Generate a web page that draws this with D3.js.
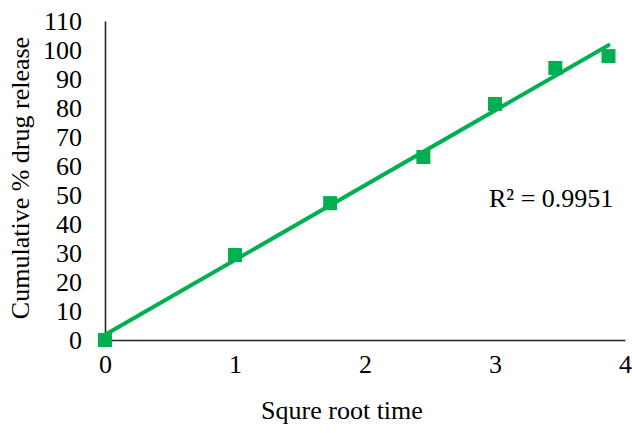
<!DOCTYPE html>
<html>
<head>
<meta charset="utf-8">
<script src="https://cdn.jsdelivr.net/npm/d3@7"></script>
<style>
  body { margin: 0; background: #fff; }
  text { font-family: "Liberation Serif", "Times New Roman", serif; fill: #000; }
</style>
</head>
<body>
<div id="chart"></div>
<script>
// data: square root of time vs cumulative % drug release
var sqrtTime = [0, 1, 1.732, 2.449, 3, 3.464, 3.873];
var release = [0, 29.3, 47.2, 63.1, 81.4, 93.8, 97.9];
var xTicks = [0, 1, 2, 3, 4];
var yTicks = [0, 10, 20, 30, 40, 50, 60, 70, 80, 90, 100, 110];
var rSquaredLabel = "R² = 0.9951";

var svgWidth = 632;
var svgHeight = 433;
var margin = { top: 21, right: 7, bottom: 93, left: 105 };
var chartWidth = svgWidth - margin.left - margin.right;
var chartHeight = svgHeight - margin.top - margin.bottom;
var green = "#00b050";
var fontSize = "26px";

var svg = d3.select("#chart")
  .append("svg")
  .attr("width", svgWidth)
  .attr("height", svgHeight);

var chartGroup = svg.append("g")
  .attr("transform", `translate(${margin.left}, ${margin.top})`);

var x = d3.scaleLinear().domain([0, 4]).range([0, chartWidth]);
var y = d3.scaleLinear().domain([0, 110]).range([chartHeight, 0]);

// axes
var bottomAxis = d3.axisBottom(x).tickValues(xTicks).tickFormat(d3.format("d"))
  .tickSize(0).tickPadding(15);
var leftAxis = d3.axisLeft(y).tickValues(yTicks).tickFormat(d3.format("d"))
  .tickSize(0).tickPadding(23);

var gx = chartGroup.append("g")
  .attr("transform", `translate(0, ${chartHeight})`)
  .call(bottomAxis);
var gy = chartGroup.append("g").call(leftAxis);

[gx, gy].forEach(function(g) {
  g.select(".domain").attr("stroke", "#262626").attr("stroke-width", 1.6);
  g.selectAll("text")
    .style("font-family", "'Liberation Serif', 'Times New Roman', serif")
    .style("font-size", fontSize)
    .attr("fill", "#000");
});
gx.selectAll("text").attr("dy", "0.71em");

// linear trendline (least squares)
var mx = d3.mean(sqrtTime), my = d3.mean(release);
var sxy = d3.sum(sqrtTime, (d, i) => (d - mx) * (release[i] - my));
var sxx = d3.sum(sqrtTime, d => (d - mx) * (d - mx));
var slope = sxy / sxx;
var intercept = my - slope * mx;
var xEnd = d3.max(sqrtTime);

chartGroup.append("line")
  .attr("x1", x(0))
  .attr("y1", y(intercept))
  .attr("x2", x(xEnd))
  .attr("y2", y(intercept + slope * xEnd))
  .attr("stroke", green)
  .attr("stroke-width", 4)
  .attr("stroke-linecap", "round");

// markers
var size = 14;
chartGroup.selectAll("rect.pt")
  .data(sqrtTime)
  .enter()
  .append("rect")
  .attr("class", "pt")
  .attr("x", d => x(d) - size / 2)
  .attr("y", (d, i) => y(release[i]) - size / 2)
  .attr("width", size)
  .attr("height", size)
  .attr("fill", green);

// R² label
chartGroup.append("text")
  .attr("x", 489 - margin.left)
  .attr("y", 207 - margin.top)
  .style("font-size", fontSize)
  .text(rSquaredLabel);

// axis titles
svg.append("text")
  .attr("x", 342)
  .attr("y", 419)
  .attr("text-anchor", "middle")
  .style("font-size", fontSize)
  .text("Squre root time");

svg.append("text")
  .attr("transform", "translate(29, 178) rotate(-90)")
  .attr("text-anchor", "middle")
  .style("font-size", fontSize)
  .text("Cumulative % drug release");
</script>
</body>
</html>
